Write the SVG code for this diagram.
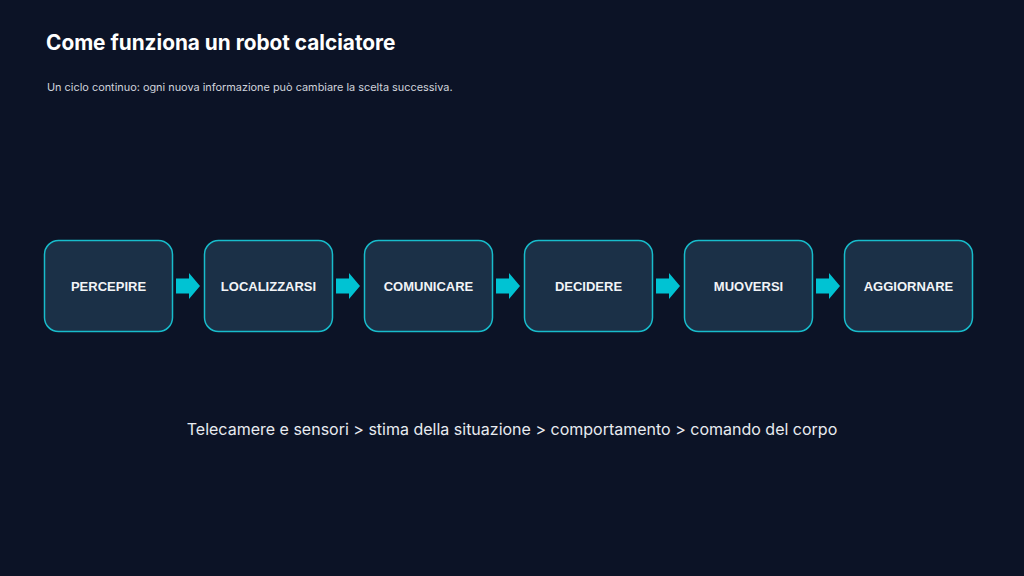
<svg xmlns="http://www.w3.org/2000/svg" width="1024" height="576" viewBox="0 0 1024 576">
<defs>
<style>
.bg{fill:#0c1326}
.box{fill:#1b3047;stroke:#18bccb;stroke-width:1.5}
.lbl{font-family:"Liberation Sans",Arial,sans-serif;font-weight:700;font-size:13px;fill:#f2f4f7;text-anchor:middle}
.arr{fill:#00c3d3}
.title{font-family:Inter,"Liberation Sans",sans-serif;font-weight:700;font-size:20.8px;fill:#ffffff}
.sub{font-family:Inter,"Liberation Sans",sans-serif;font-size:10.9px;fill:#d0d4dc}
.foot{font-family:Inter,"Liberation Sans",sans-serif;font-size:16px;fill:#e8ebf0;text-anchor:middle}
</style>
<path id="a" d="M0,-7.5 H13 V-13 L24,0 L13,13 V7.5 H0 Z"/>
</defs>
<rect class="bg" width="1024" height="576"/>
<text class="title" x="46" y="50">Come funziona un robot calciatore</text>
<text class="sub" x="47" y="91">Un ciclo continuo: ogni nuova informazione può cambiare la scelta successiva.</text>
<g id="n1"><rect class="box" x="44.5" y="240.5" width="128" height="91" rx="14"/><text class="lbl" x="108.5" y="290.5">PERCEPIRE</text></g>
<g id="n2"><rect class="box" x="204.5" y="240.5" width="128" height="91" rx="14"/><text class="lbl" x="268.5" y="290.5">LOCALIZZARSI</text></g>
<g id="n3"><rect class="box" x="364.5" y="240.5" width="128" height="91" rx="14"/><text class="lbl" x="428.5" y="290.5">COMUNICARE</text></g>
<g id="n4"><rect class="box" x="524.5" y="240.5" width="128" height="91" rx="14"/><text class="lbl" x="588.5" y="290.5">DECIDERE</text></g>
<g id="n5"><rect class="box" x="684.5" y="240.5" width="128" height="91" rx="14"/><text class="lbl" x="748.5" y="290.5">MUOVERSI</text></g>
<g id="n6"><rect class="box" x="844.5" y="240.5" width="128" height="91" rx="14"/><text class="lbl" x="908.5" y="290.5">AGGIORNARE</text></g>
<g id="connectors">
<use class="arr" href="#a" x="176" y="286"/>
<use class="arr" href="#a" x="336" y="286"/>
<use class="arr" href="#a" x="496" y="286"/>
<use class="arr" href="#a" x="656" y="286"/>
<use class="arr" href="#a" x="816" y="286"/>
</g>
<text class="foot" x="512" y="435">Telecamere e sensori &gt; stima della situazione &gt; comportamento &gt; comando del corpo</text>
</svg>
